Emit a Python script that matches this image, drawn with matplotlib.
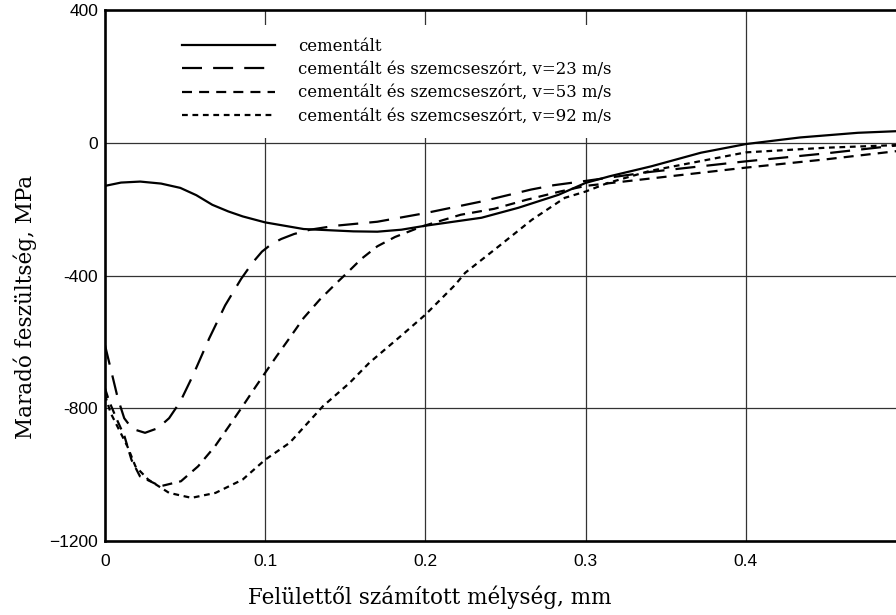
import matplotlib
matplotlib.use("Agg")
import matplotlib.pyplot as plt

# depth below surface, mm  /  residual stress, MPa
depth_cem = [0.0, 0.010, 0.022, 0.035, 0.047, 0.057, 0.067, 0.077, 0.086, 0.100,
             0.124, 0.155, 0.170, 0.185, 0.200, 0.235, 0.258, 0.283, 0.300, 0.315,
             0.341, 0.372, 0.400, 0.434, 0.470, 0.500]
stress_cem = [-130, -120, -117, -123, -136, -158, -187, -207, -222, -240,
              -260, -267, -268, -262, -250, -226, -196, -157, -121, -101,
              -71, -30, -4, 16, 30, 36]

depth_v23 = [0.0, 0.004, 0.008, 0.012, 0.017, 0.025, 0.033, 0.040, 0.047, 0.055,
             0.065, 0.075, 0.085, 0.092, 0.098, 0.104, 0.110, 0.118, 0.128, 0.144,
             0.170, 0.200, 0.235, 0.266, 0.280, 0.300, 0.340, 0.400, 0.450, 0.500]
stress_v23 = [-610, -690, -770, -830, -862, -874, -860, -830, -780, -700,
              -590, -490, -410, -362, -328, -305, -290, -275, -262, -250,
              -238, -212, -177, -141, -128, -115, -88, -56, -32, -5]

depth_v53 = [0.0, 0.0026, 0.0075, 0.0122, 0.0165, 0.0218, 0.0346, 0.0474, 0.0581, 0.0686,
             0.0774, 0.0859, 0.0942, 0.100, 0.107, 0.116, 0.124, 0.134, 0.144, 0.152,
             0.160, 0.170, 0.181, 0.198, 0.222, 0.243, 0.263, 0.284, 0.300, 0.340,
             0.400, 0.450, 0.500]
stress_v53 = [-740, -779, -835, -885, -955, -1005, -1035, -1020, -975, -915,
              -854, -794, -734, -693, -644, -583, -528, -473, -425, -388,
              -350, -312, -284, -252, -217, -199, -172, -147, -130, -108,
              -75, -50, -22]

depth_v92 = [0.0, 0.0035, 0.014, 0.019, 0.027, 0.040, 0.054, 0.069, 0.0859, 0.100,
             0.1153, 0.136, 0.1526, 0.165, 0.1857, 0.200, 0.2186, 0.2248, 0.2458, 0.2665,
             0.287, 0.300, 0.314, 0.340, 0.400, 0.450, 0.500]
stress_v92 = [-760, -814, -915, -975, -1015, -1055, -1070, -1055, -1015, -955,
              -904, -794, -724, -663, -578, -518, -428, -392, -312, -232,
              -166, -147, -121, -85, -29, -15, -6]

labels = ['cementált',
          'cementált és szemcseszórt, v=23 m/s',
          'cementált és szemcseszórt, v=53 m/s',
          'cementált és szemcseszórt, v=92 m/s']

x_ticks = [0, 0.1, 0.2, 0.3, 0.4]
x_tick_labels = ['0', '0.1', '0.2', '0.3', '0.4']
y_ticks = [400, 0, -400, -800, -1200]
y_tick_labels = ['400', '0', '-400', '-800', '\u22121200']

fig = plt.figure(figsize=(8.96, 6.15), dpi=100)
ax = fig.add_axes([105 / 896, 1 - 541 / 615, 801 / 896, 531 / 615])

lw = 1.6
ax.plot(depth_cem, stress_cem, color='black', lw=lw, label=labels[0])
ax.plot(depth_v23, stress_v23, color='black', lw=lw, dashes=(9, 5), label=labels[1])
ax.plot(depth_v53, stress_v53, color='black', lw=lw, dashes=(4.5, 3.2), label=labels[2])
ax.plot(depth_v92, stress_v92, color='black', lw=lw, dashes=(2.6, 2.1), label=labels[3])

ax.set_xlim(0, 0.5)
ax.set_ylim(-1200, 400)
ax.set_xticks(x_ticks)
ax.set_xticklabels(x_tick_labels)
ax.set_yticks(y_ticks)
ax.set_yticklabels(y_tick_labels)
ax.tick_params(length=0, labelsize=12.5, pad=5)
ax.tick_params(axis='x', pad=9)
for t in ax.get_xticklabels() + ax.get_yticklabels():
    t.set_family('Liberation Sans')

for v in [0.1, 0.2, 0.3, 0.4]:
    ax.axvline(v, color='#333333', lw=0.9, zorder=0)
for v in [0, -400, -800]:
    ax.axhline(v, color='#333333', lw=0.9, zorder=0)

for s in ['left', 'top', 'bottom']:
    ax.spines[s].set_linewidth(1.9)
ax.spines['right'].set_visible(False)

leg = ax.legend(loc='upper left', bbox_to_anchor=(0.080, 0.972), borderaxespad=0,
                handlelength=5.6, handletextpad=1.4, labelspacing=0.37, borderpad=0.8,
                frameon=True, fancybox=False, framealpha=1, edgecolor='none',
                facecolor='white', prop={'family': 'DejaVu Serif', 'size': 11.9})
leg.set_zorder(5)

fig.text(430 / 896, 1 - 597 / 615, 'Felülettől számított mélység, mm', ha='center', va='center',
         family='DejaVu Serif', fontsize=15.5)
fig.text(25 / 896, 1 - 307 / 615, 'Maradó feszültség, MPa', ha='center', va='center',
         rotation=90, family='DejaVu Serif', fontsize=15.5)

fig.savefig('out.png', dpi=100)
